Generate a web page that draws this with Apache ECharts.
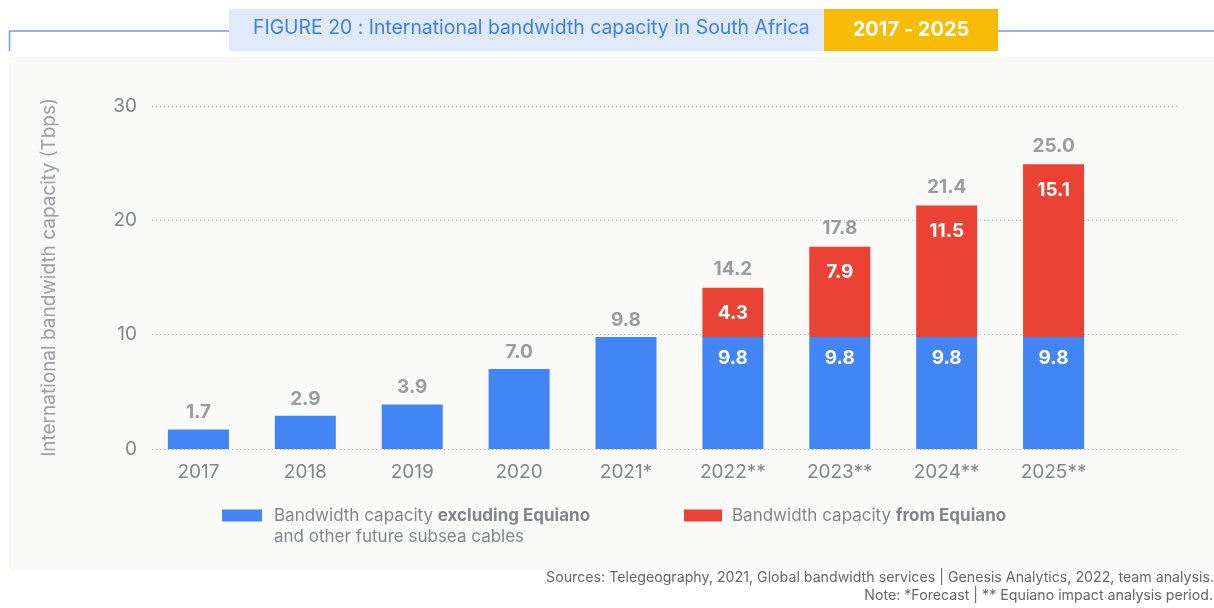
<!DOCTYPE html>
<html>
<head>
<meta charset="utf-8">
<script src="https://cdn.jsdelivr.net/npm/echarts@6/dist/echarts.min.js"></script>
<style>html,body{margin:0;padding:0;background:#fff;}#c{width:1214px;height:608px;}</style>
</head>
<body>
<div id="c"></div>
<script>
const categories = ['2017', '2018', '2019', '2020', '2021*', '2022**', '2023**', '2024**', '2025**'];
const baseValues = [1.7, 2.9, 3.9, 7.0, 9.8, 9.8, 9.8, 9.8, 9.8];
const equianoValues = [null, null, null, null, null, 4.3, 7.9, 11.5, 15.1];
const totalValues = [1.7, 2.9, 3.9, 7.0, 9.8, 14.2, 17.8, 21.4, 25.0];
const yTicks = { min: 0, max: 30, interval: 10 };

const FONT = 'Inter, Roboto, "Noto Sans", sans-serif';
const GRAY = '#80868b';
const BLUE = '#4285f4';
const RED = '#ea4335';

const chart = echarts.init(document.getElementById('c'), null, { renderer: 'canvas' });
chart.setOption({
  backgroundColor: '#ffffff',
  textStyle: { fontFamily: FONT },
  graphic: [
    { type: 'rect', shape: { x: 9, y: 57, width: 1205, height: 514 }, style: { fill: '#fafaf9' }, z: -10 },
    { type: 'line', shape: { x1: 9, y1: 31, x2: 229, y2: 31 }, style: { stroke: '#6d9cf0', lineWidth: 1.5 } },
    { type: 'line', shape: { x1: 9.5, y1: 31, x2: 9.5, y2: 51 }, style: { stroke: '#6d9cf0', lineWidth: 1.5 } },
    { type: 'line', shape: { x1: 998, y1: 31, x2: 1214, y2: 31 }, style: { stroke: '#6d9cf0', lineWidth: 1.5 } },
    { type: 'rect', shape: { x: 229, y: 9, width: 595, height: 42 }, style: { fill: '#e0eafc' } },
    { type: 'rect', shape: { x: 824, y: 9, width: 174, height: 42 }, style: { fill: '#f9bc05' } },
    { type: 'text', left: 253, top: 19, style: { text: 'FIGURE 20 : International bandwidth capacity in South Africa', fill: '#3d7ee8', font: '19.4px ' + FONT } },
    { type: 'text', x: 911, y: 30, style: { text: '2017 - 2025', fill: '#ffffff', font: 'bold 20px ' + FONT, align: 'center', verticalAlign: 'middle' } },
    { type: 'text', left: 274, top: 528, style: { text: 'and other future subsea cables', fill: GRAY, font: '17px ' + FONT } },
    { type: 'text', right: 0, top: 571, style: { text: 'Sources: Telegeography, 2021, Global bandwidth services | Genesis Analytics, 2022, team analysis.', fill: '#666', font: '14.2px ' + FONT, align: 'right' } },
    { type: 'text', right: 1, top: 589, style: { text: 'Note: *Forecast | ** Equiano impact analysis period.', fill: '#666', font: '14.2px ' + FONT, align: 'right' } }
  ],
  legend: [
    {
      data: ['Bandwidth capacity excluding Equiano'],
      left: 222, top: 507, padding: 0, itemWidth: 40, itemHeight: 12, itemGap: 10,
      icon: 'rect', selectedMode: false,
      formatter: () => 'Bandwidth capacity {b|excluding Equiano}',
      textStyle: { color: GRAY, fontSize: 17, fontFamily: FONT, padding: [0, 0, 0, 7], rich: { b: { fontWeight: 'bold', color: GRAY, fontSize: 17, fontFamily: FONT } } }
    },
    {
      data: ['Bandwidth capacity from Equiano'],
      left: 684, top: 507, padding: 0, itemWidth: 38, itemHeight: 12, itemGap: 10,
      icon: 'rect', selectedMode: false,
      formatter: () => 'Bandwidth capacity {b|from Equiano}',
      textStyle: { color: GRAY, fontSize: 17, fontFamily: FONT, padding: [0, 0, 0, 5], rich: { b: { fontWeight: 'bold', color: GRAY, fontSize: 17, fontFamily: FONT } } }
    }
  ],
  grid: [
    { left: 152, right: 34, top: 106, bottom: 159 },
    { left: 145, right: 107, top: 106, bottom: 159 }
  ],
  xAxis: [
    { gridIndex: 0, type: 'category', data: categories, show: false },
    {
      gridIndex: 1, type: 'category', data: categories,
      axisLine: { show: false }, axisTick: { show: false },
      axisLabel: { color: GRAY, fontSize: 19, margin: 14, fontFamily: FONT }
    }
  ],
  yAxis: [
    {
      gridIndex: 0, type: 'value', min: yTicks.min, max: yTicks.max, interval: yTicks.interval,
      name: 'International bandwidth capacity (Tbps)', nameLocation: 'middle', nameGap: 93,
      nameTextStyle: { color: '#9aa0a6', fontSize: 19, fontFamily: FONT },
      axisLine: { show: false }, axisTick: { show: false },
      axisLabel: { color: GRAY, fontSize: 19, margin: 15, fontFamily: FONT },
      splitLine: { lineStyle: { color: '#b5b5b5', type: [1, 3], width: 1 } }
    },
    { gridIndex: 1, type: 'value', min: yTicks.min, max: yTicks.max, interval: yTicks.interval, show: false, splitLine: { show: false } }
  ],
  series: [
    {
      name: 'Bandwidth capacity excluding Equiano', type: 'bar', stack: 'cap',
      xAxisIndex: 1, yAxisIndex: 1, barWidth: 61, data: baseValues,
      itemStyle: { color: BLUE },
      label: {
        show: true, position: 'insideTop', distance: 12, color: '#fff', fontWeight: 'bold', fontSize: 19, fontFamily: FONT,
        formatter: p => equianoValues[p.dataIndex] != null ? p.value.toFixed(1) : ''
      }
    },
    {
      name: 'Bandwidth capacity from Equiano', type: 'bar', stack: 'cap',
      xAxisIndex: 1, yAxisIndex: 1, barWidth: 61, data: equianoValues,
      itemStyle: { color: RED },
      label: {
        show: true, position: 'insideTop', distance: 16, color: '#fff', fontWeight: 'bold', fontSize: 19, fontFamily: FONT,
        formatter: p => p.value.toFixed(1)
      }
    },
    {
      name: 'Total', type: 'scatter', xAxisIndex: 1, yAxisIndex: 1,
      data: totalValues, symbolSize: 1, itemStyle: { color: 'rgba(0,0,0,0)' },
      silent: true,
      label: {
        show: true, position: 'top', distance: 7, color: GRAY, fontWeight: 'bold', fontSize: 19, fontFamily: FONT,
        formatter: p => p.value.toFixed(1)
      }
    }
  ]
});
</script>
</body>
</html>
